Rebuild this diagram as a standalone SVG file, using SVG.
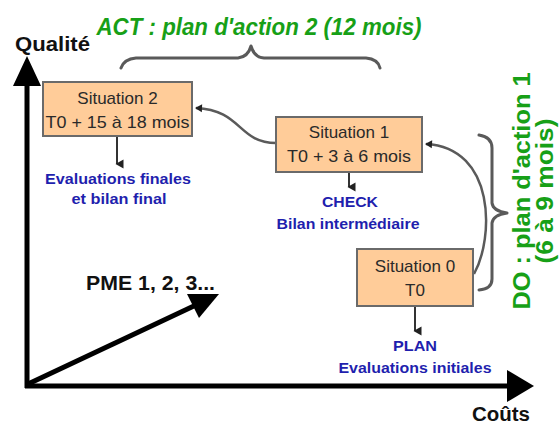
<svg xmlns="http://www.w3.org/2000/svg" width="559" height="424" viewBox="0 0 559 424">
  <defs>
    <marker id="dn" markerWidth="10" markerHeight="10" refX="5" refY="8" orient="auto-start-reverse" markerUnits="userSpaceOnUse" viewBox="0 0 10 10">
      <path d="M0.5,1.5 L9.5,1.5 L5,9.5 Z" fill="#222"/>
    </marker>
    <marker id="tip" markerWidth="10" markerHeight="10" refX="8" refY="5" orient="auto" markerUnits="userSpaceOnUse" viewBox="0 0 10 10">
      <path d="M2,1 L9,5 L2,9 Z" fill="#222"/>
    </marker>
  </defs>
  <style>
    .box { fill: #ffcc99; stroke: #6a6a6a; stroke-width: 2; }
    .bt { font-family: "Liberation Sans", Arial, sans-serif; font-size: 17px; fill: #2a2a2a; text-anchor: middle; }
    .blue { font-family: "Liberation Sans", Arial, sans-serif; font-size: 15px; font-weight: bold; fill: #1f1fae; text-anchor: middle; }
    .green { font-family: "Liberation Sans", Arial, sans-serif; font-size: 24px; font-weight: bold; fill: #17a017; text-anchor: middle; }
    .ax { font-family: "Liberation Sans", Arial, sans-serif; font-size: 20px; font-weight: bold; fill: #111; }
    .axis { stroke: #000; stroke-width: 5; fill: none; }
    .conn { stroke: #5a5a5a; stroke-width: 2.5; fill: none; }
    .brace { stroke: #5a5a5a; stroke-width: 3; fill: none; stroke-linejoin: round; stroke-linecap: round; }
    .down { stroke: #333; stroke-width: 2; fill: none; }
  </style>

  <g id="axes">
    <line class="axis" x1="27" y1="388" x2="27" y2="82"/>
    <polygon points="27,56 13,86 41,86" fill="#000"/>
    <line class="axis" x1="25" y1="386" x2="510" y2="386"/>
    <polygon points="534,386 507,370 507,402" fill="#000"/>
    <line class="axis" x1="28" y1="384" x2="196" y2="305"/>
    <polygon points="219,294 187,294 199,318" fill="#000"/>
    <text class="ax" x="15" y="51" textLength="75" lengthAdjust="spacingAndGlyphs">Qualité</text>
    <text class="ax" x="472" y="421" textLength="58" lengthAdjust="spacingAndGlyphs">Coûts</text>
    <text class="ax" x="86" y="290" textLength="129" lengthAdjust="spacingAndGlyphs">PME 1, 2, 3...</text>
  </g>

  <g id="act">
    <text class="green" x="259" y="35" font-style="italic" textLength="325" lengthAdjust="spacingAndGlyphs">ACT : plan d'action 2 (12 mois)</text>
    <path class="brace" d="M121,68 Q124,59 136,58 L238,58 Q248,57 251,46 Q254,57 264,58 L366,58 Q378,59 380,68"/>
  </g>

  <g id="do">
    <text class="green" transform="translate(530,191) rotate(-90)" textLength="237" lengthAdjust="spacingAndGlyphs">DO : plan d'action 1</text>
    <text class="green" transform="translate(553,191) rotate(-90)" font-size="22" textLength="145" lengthAdjust="spacingAndGlyphs">(6 à 9 mois)</text>
    <path class="brace" d="M479,135 Q492,137 492,148 L492,203 Q493,211 507,213 Q493,215 492,223 L492,279 Q492,289 479,290"/>
  </g>

  <g id="connectors">
    <path class="conn" d="M276,143 C238,143 242,110 196,108" marker-end="url(#tip)"/>
    <path class="conn" d="M474,274 C494,238 496,148 426,144" marker-end="url(#tip)"/>
    <line class="down" x1="117" y1="137" x2="117" y2="164" marker-end="url(#dn)"/>
    <line class="down" x1="349" y1="173" x2="349" y2="187" marker-end="url(#dn)"/>
    <line class="down" x1="415" y1="307" x2="415" y2="331" marker-end="url(#dn)"/>
  </g>

  <g id="situation2">
    <rect class="box" x="43" y="82" width="149" height="54"/>
    <text class="bt" x="117.5" y="104">Situation 2</text>
    <text class="bt" x="117.5" y="128" textLength="144" lengthAdjust="spacingAndGlyphs">T0 + 15 à 18 mois</text>
  </g>
  <g id="label2">
    <text class="blue" x="118" y="184" textLength="146" lengthAdjust="spacingAndGlyphs">Evaluations finales</text>
    <text class="blue" x="119" y="204" textLength="95" lengthAdjust="spacingAndGlyphs">et bilan final</text>
  </g>

  <g id="situation1">
    <rect class="box" x="276" y="117" width="146" height="55"/>
    <text class="bt" x="349" y="138">Situation 1</text>
    <text class="bt" x="349" y="162" textLength="124" lengthAdjust="spacingAndGlyphs">T0 + 3 à 6 mois</text>
  </g>
  <g id="label1">
    <text class="blue" x="350" y="207" textLength="56" lengthAdjust="spacingAndGlyphs">CHECK</text>
    <text class="blue" x="348" y="229" textLength="143" lengthAdjust="spacingAndGlyphs">Bilan intermédiaire</text>
  </g>

  <g id="situation0">
    <rect class="box" x="357" y="249" width="116" height="57"/>
    <text class="bt" x="415" y="272">Situation 0</text>
    <text class="bt" x="415" y="296">T0</text>
  </g>
  <g id="label0">
    <text class="blue" x="415" y="351" textLength="44" lengthAdjust="spacingAndGlyphs">PLAN</text>
    <text class="blue" x="415" y="373" textLength="153" lengthAdjust="spacingAndGlyphs">Evaluations initiales</text>
  </g>
</svg>
